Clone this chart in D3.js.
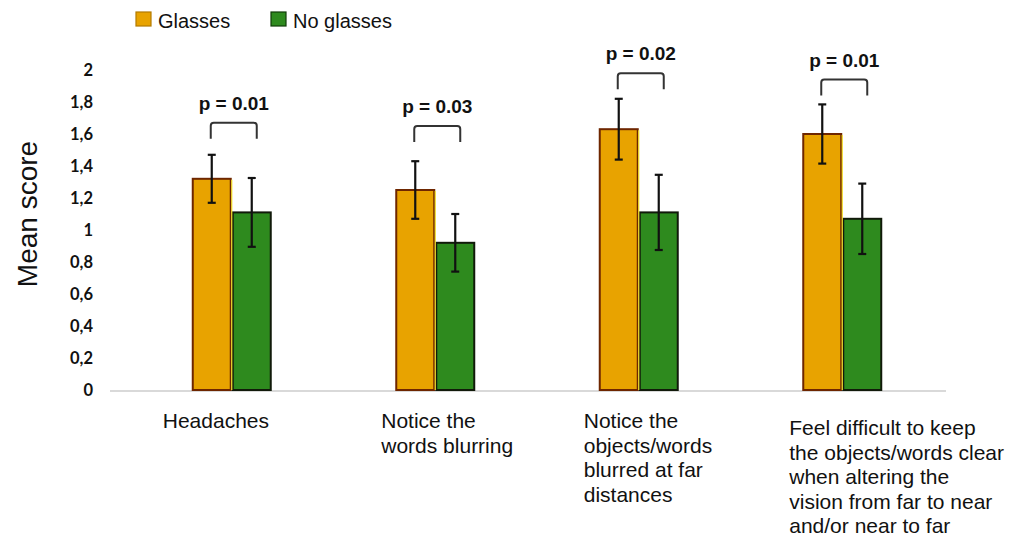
<!DOCTYPE html>
<html>
<head>
<meta charset="utf-8">
<script src="https://cdn.jsdelivr.net/npm/d3@7"></script>
<style>
  html, body { margin: 0; padding: 0; background: #fff; }
  svg { display: block; }
</style>
</head>
<body>
<svg id="chart" width="1022" height="537"></svg>
<script>
// Symptom categories (wrapped as they are printed under the axis)
const categories = ["Headaches", "Notice the words blurring", "Notice the objects/words blurred at far distances", "Feel difficult to keep the objects/words clear when altering the vision from far to near and/or near to far"];
const categoryLines = [
  ["Headaches"],
  ["Notice the", "words blurring"],
  ["Notice the", "objects/words", "blurred at far", "distances"],
  ["Feel difficult to keep", "the objects/words clear", "when altering the", "vision from far to near", "and/or near to far"]
];

// Series: mean score and error (±) per category
const seriesNames = ["Glasses", "No glasses"];
const glassesMean = [1.32, 1.25, 1.63, 1.60];
const glassesErr = [0.15, 0.18, 0.19, 0.185];
const noGlassesMean = [1.11, 0.92, 1.11, 1.07];
const noGlassesErr = [0.215, 0.18, 0.235, 0.22];

// Significance annotations and the score level of each bracket
const pLabels = ["p = 0.01", "p = 0.03", "p = 0.02", "p = 0.01"];
const bracketLevel = [1.67, 1.65, 1.98, 1.94];

// Y axis ticks
const yTicks = [0, 0.2, 0.4, 0.6, 0.8, 1, 1.2, 1.4, 1.6, 1.8, 2];

// ---- styling / layout ----
const colors = { fill: ["#E8A300", "#2E8A1E"], stroke: ["#6e2600", "#111a0a"] };
const labelDx = [-69, -54, -55, -53];
const labelDy = [0, 0, 0, 7];

const svg = d3.select("#chart");
const x = d3.scaleBand().domain(categories).range([130, 944]);
const y = d3.scaleLinear().domain([0, 2]).range([390, 70]);
const xSub = d3.scaleBand().domain(seriesNames).range([-40, 40]);

const groups = categories.map((c, i) => ({
  cat: c, i,
  center: x(c) + x.bandwidth() / 2,
  vals: [
    { s: seriesNames[0], k: 0, v: glassesMean[i], e: glassesErr[i] },
    { s: seriesNames[1], k: 1, v: noGlassesMean[i], e: noGlassesErr[i] }
  ]
}));

// Baseline
svg.append("line")
  .attr("x1", 110).attr("x2", 946)
  .attr("y1", y(0) + 1).attr("y2", y(0) + 1)
  .attr("stroke", "#d9d9d9").attr("stroke-width", 2);

// Y axis (labels only)
const yAxis = d3.axisLeft(y)
  .tickValues(yTicks)
  .tickSize(0)
  .tickPadding(7)
  .tickFormat(d => Number.isInteger(d) ? String(d) : d.toFixed(1).replace(".", ","));
const ya = svg.append("g").attr("transform", "translate(100,0)").call(yAxis);
ya.select(".domain").remove();
ya.selectAll("text")
  .attr("font-family", "Lato, 'Open Sans', sans-serif")
  .attr("font-weight", "bold")
  .attr("font-size", 16.5)
  .attr("fill", "#111");

// Y axis title
svg.append("text")
  .attr("transform", "translate(37,214) rotate(-90)")
  .attr("text-anchor", "middle")
  .attr("font-family", "'Liberation Sans', Arial, sans-serif")
  .attr("font-size", 28)
  .attr("fill", "#111")
  .text("Mean score");

// Bars
const g = svg.selectAll("g.group").data(groups).join("g")
  .attr("class", "group")
  .attr("transform", d => `translate(${d.center},0)`);

g.selectAll("rect.bar").data(d => d.vals).join("rect")
  .attr("class", "bar")
  .attr("x", d => xSub(d.s) + 1)
  .attr("width", xSub.bandwidth() - 2)
  .attr("y", d => y(d.v))
  .attr("height", d => y(0) - y(d.v))
  .attr("fill", d => colors.fill[d.k])
  .attr("stroke", d => colors.stroke[d.k])
  .attr("stroke-width", 2);

// Light highlight where the two bars meet
g.append("line")
  .attr("x1", 0).attr("x2", 0)
  .attr("y1", d => y(d.vals[0].v) + 1)
  .attr("y2", y(0))
  .attr("stroke", "#f6e22a").attr("stroke-width", 1.2);

// Error bars
const eb = g.selectAll("g.err").data(d => d.vals).join("g").attr("class", "err");
eb.append("line")
  .attr("x1", d => xSub(d.s) + xSub.bandwidth() / 2)
  .attr("x2", d => xSub(d.s) + xSub.bandwidth() / 2)
  .attr("y1", d => y(d.v + d.e)).attr("y2", d => y(d.v - d.e))
  .attr("stroke", "#111").attr("stroke-width", 2.2);
[1, -1].forEach(sgn => {
  eb.append("line")
    .attr("x1", d => xSub(d.s) + xSub.bandwidth() / 2 - 4)
    .attr("x2", d => xSub(d.s) + xSub.bandwidth() / 2 + 4)
    .attr("y1", d => y(d.v + sgn * d.e)).attr("y2", d => y(d.v + sgn * d.e))
    .attr("stroke", "#111").attr("stroke-width", 2.2);
});

// Significance brackets
g.append("path")
  .attr("d", d => {
    const top = y(bracketLevel[d.i]);
    const bot = top + 16;
    const l = -21, r = 25, rr = 3;
    return `M${l},${bot} L${l},${top + rr} Q${l},${top} ${l + rr},${top} L${r - rr},${top} Q${r},${top} ${r},${top + rr} L${r},${bot}`;
  })
  .attr("fill", "none")
  .attr("stroke", "#333")
  .attr("stroke-width", 2);

g.append("text")
  .attr("x", 2)
  .attr("y", d => y(bracketLevel[d.i]) - 13)
  .attr("text-anchor", "middle")
  .attr("font-family", "'Liberation Sans', Arial, sans-serif")
  .attr("font-weight", "bold")
  .attr("font-size", 19)
  .attr("fill", "#111")
  .text(d => pLabels[d.i]);

// Category labels
g.append("text")
  .attr("font-family", "'Liberation Sans', Arial, sans-serif")
  .attr("font-size", 21)
  .attr("fill", "#111")
  .each(function(d) {
    const t = d3.select(this);
    categoryLines[d.i].forEach((ln, j) => {
      t.append("tspan")
        .attr("x", labelDx[d.i])
        .attr("y", 428 + labelDy[d.i] + j * 24.5)
        .text(ln);
    });
  });

// Legend
const legendX = [136, 271];
const lg = svg.selectAll("g.legend").data(seriesNames).join("g")
  .attr("class", "legend")
  .attr("transform", (d, i) => `translate(${legendX[i]},12)`);
lg.append("rect")
  .attr("width", 15).attr("height", 14)
  .attr("fill", (d, i) => colors.fill[i])
  .attr("stroke", (d, i) => i === 0 ? "#b27a00" : "#0f3d08")
  .attr("stroke-width", 1.2);
lg.append("text")
  .attr("x", 22).attr("y", 16)
  .attr("font-family", "'Liberation Sans', Arial, sans-serif")
  .attr("font-size", 20)
  .attr("fill", "#111")
  .text(d => d);
</script>
</body>
</html>
